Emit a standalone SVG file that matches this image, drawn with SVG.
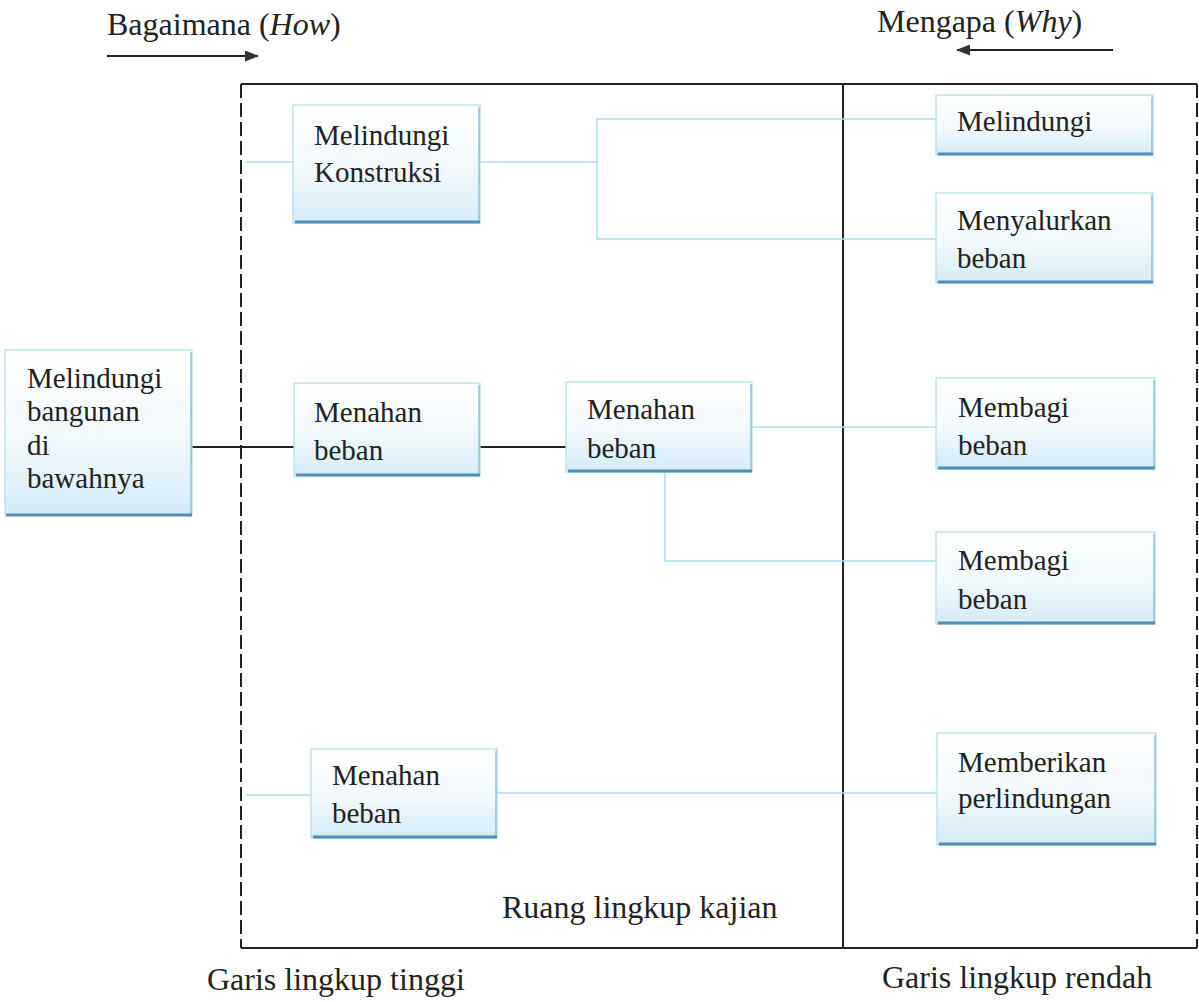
<svg xmlns="http://www.w3.org/2000/svg" width="1199" height="1002" viewBox="0 0 1199 1002">
<defs>
<linearGradient id="nodeFill" x1="0" y1="0" x2="0" y2="1">
<stop offset="0" stop-color="#ffffff"/>
<stop offset="0.55" stop-color="#f2f9fc"/>
<stop offset="1" stop-color="#d3ebf6"/>
</linearGradient>
<marker id="arrowHead" viewBox="0 0 14 11" refX="13" refY="5.5" markerWidth="14" markerHeight="11" orient="auto" markerUnits="userSpaceOnUse">
<path d="M0,0 L14,5.5 L0,11 Z" fill="#333"/>
</marker>
</defs>
<style>
.box{fill:url(#nodeFill);stroke:#b2dcea;stroke-width:1.2}
.base{stroke:#4f8fb5;stroke-width:3}
.side{stroke:#8cc3d8;stroke-width:1.5}
text{font-family:'Liberation Serif','Times New Roman','DejaVu Serif',serif;fill:#222}
.nt{font-size:29px}
.lbl{font-size:32px}
.blue{stroke:#a9dcec;stroke-width:1.5;fill:none}
.black{stroke:#222;stroke-width:2;fill:none}
.dash{stroke:#222;stroke-width:2;stroke-dasharray:14 5;fill:none}
.solid{stroke:#222;stroke-width:2;fill:none}
</style>
<rect width="1199" height="1002" fill="#ffffff"/>

<g id="frame">
<line class="solid" x1="241" y1="84" x2="1197" y2="84"/>
<line class="solid" x1="241" y1="948" x2="1197" y2="948"/>
<line class="dash" x1="241" y1="84" x2="241" y2="948"/>
<line class="dash" x1="1197" y1="84" x2="1197" y2="948"/>
<line class="solid" x1="843" y1="84" x2="843" y2="948"/>
</g>

<g id="labels">
<text class="lbl" x="107" y="35" font-family="Liberation Serif">Bagaimana (<tspan font-style="italic">How</tspan>)</text>
<line class="black" x1="107" y1="56" x2="258" y2="56" marker-end="url(#arrowHead)"/>
<text class="lbl" x="877" y="32" font-family="Liberation Serif">Mengapa (<tspan font-style="italic">Why</tspan>)</text>
<line class="black" x1="1113" y1="50" x2="957" y2="50" marker-end="url(#arrowHead)"/>
<text class="lbl" x="502" y="918" font-family="Liberation Serif">Ruang lingkup kajian</text>
<text class="lbl" x="207" y="990" font-family="Liberation Serif">Garis lingkup tinggi</text>
<text class="lbl" x="882" y="988" font-family="Liberation Serif">Garis lingkup rendah</text>
</g>

<g id="connectors">
<line class="blue" x1="246" y1="162" x2="293" y2="162"/>
<polyline class="blue" points="480,162 597,162"/>
<polyline class="blue" points="936,119 597,119 597,239 936,239"/>
<line class="black" x1="192" y1="447" x2="294" y2="447"/>
<line class="black" x1="480" y1="447" x2="566" y2="447"/>
<line class="blue" x1="752" y1="427" x2="936" y2="427"/>
<polyline class="blue" points="665,472 665,561 936,561"/>
<line class="blue" x1="246" y1="795" x2="311" y2="795"/>
<line class="blue" x1="497" y1="793" x2="937" y2="793"/>
</g>

<g id="node-melindungi-bangunan">
<rect class="box" x="5" y="350" width="187" height="165"/>
<line class="side" x1="191" y1="352" x2="191" y2="514"/>
<line class="base" x1="6" y1="515" x2="192" y2="515"/>
<text class="nt" x="27" y="388">Melindungi</text>
<text class="nt" x="27" y="421">bangunan</text>
<text class="nt" x="27" y="455">di</text>
<text class="nt" x="27" y="488">bawahnya</text>
</g>

<g id="node-melindungi-konstruksi">
<rect class="box" x="293" y="105" width="187" height="118"/>
<line class="side" x1="479" y1="107" x2="479" y2="222"/>
<line class="base" x1="295" y1="222" x2="480" y2="222"/>
<text class="nt" x="314" y="145">Melindungi</text>
<text class="nt" x="314" y="182">Konstruksi</text>
</g>

<g id="node-menahan-beban-1">
<rect class="box" x="294" y="383" width="186" height="93"/>
<line class="side" x1="479" y1="385" x2="479" y2="475"/>
<line class="base" x1="296" y1="475" x2="480" y2="475"/>
<text class="nt" x="314" y="422">Menahan</text>
<text class="nt" x="314" y="460">beban</text>
</g>

<g id="node-menahan-beban-2">
<rect class="box" x="566" y="382" width="186" height="90"/>
<line class="side" x1="751" y1="384" x2="751" y2="471"/>
<line class="base" x1="568" y1="471" x2="752" y2="471"/>
<text class="nt" x="587" y="419">Menahan</text>
<text class="nt" x="587" y="458">beban</text>
</g>

<g id="node-menahan-beban-3">
<rect class="box" x="311" y="749" width="186" height="89"/>
<line class="side" x1="496" y1="751" x2="496" y2="837"/>
<line class="base" x1="313" y1="837" x2="497" y2="837"/>
<text class="nt" x="332" y="785">Menahan</text>
<text class="nt" x="332" y="823">beban</text>
</g>

<g id="node-melindungi">
<rect class="box" x="936" y="95" width="217" height="60"/>
<line class="side" x1="1152" y1="97" x2="1152" y2="154"/>
<line class="base" x1="938" y1="154" x2="1153" y2="154"/>
<text class="nt" x="957" y="131">Melindungi</text>
</g>

<g id="node-menyalurkan-beban">
<rect class="box" x="936" y="193" width="217" height="90"/>
<line class="side" x1="1152" y1="195" x2="1152" y2="282"/>
<line class="base" x1="938" y1="282" x2="1153" y2="282"/>
<text class="nt" x="957" y="230">Menyalurkan</text>
<text class="nt" x="957" y="268">beban</text>
</g>

<g id="node-membagi-beban-1">
<rect class="box" x="936" y="378" width="219" height="91"/>
<line class="side" x1="1154" y1="380" x2="1154" y2="468"/>
<line class="base" x1="938" y1="468" x2="1155" y2="468"/>
<text class="nt" x="958" y="417">Membagi</text>
<text class="nt" x="958" y="455">beban</text>
</g>

<g id="node-membagi-beban-2">
<rect class="box" x="936" y="532" width="219" height="92"/>
<line class="side" x1="1154" y1="534" x2="1154" y2="623"/>
<line class="base" x1="938" y1="623" x2="1155" y2="623"/>
<text class="nt" x="958" y="570">Membagi</text>
<text class="nt" x="958" y="609">beban</text>
</g>

<g id="node-memberikan-perlindungan">
<rect class="box" x="937" y="733" width="219" height="112"/>
<line class="side" x1="1155" y1="735" x2="1155" y2="844"/>
<line class="base" x1="939" y1="844" x2="1156" y2="844"/>
<text class="nt" x="958" y="772">Memberikan</text>
<text class="nt" x="958" y="808">perlindungan</text>
</g>
</svg>
